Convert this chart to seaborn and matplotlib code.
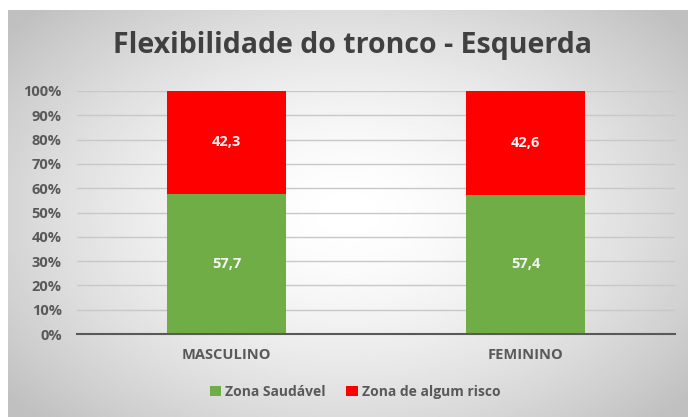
import numpy as np
import pandas as pd
import matplotlib
matplotlib.use('Agg')
import matplotlib.pyplot as plt
import seaborn as sns

# Data
categories = ['MASCULINO', 'FEMININO']
saudavel = [57.7, 57.4]
risco = [42.3, 42.6]
series_names = ['Zona Saudável', 'Zona de algum risco']
title = 'Flexibilidade do tronco - Esquerda'

green = '#70AD47'
red = '#FF0000'
text_gray = '#595959'

sns.set_theme(style='white')
plt.rcParams['font.family'] = ['Open Sans', 'DejaVu Sans']
plt.rcParams['font.weight'] = 'bold'

fig = plt.figure(figsize=(6.88, 4.17), dpi=100)
fig.patch.set_facecolor('white')

# radial gradient background for the chart frame
bg = fig.add_axes([8 / 688, 0, 1 - 8 / 688, 407 / 417], zorder=0)
yy, xx = np.mgrid[-1:1:300j, -1:1:400j]
r = np.sqrt(xx ** 2 + (yy * 0.9) ** 2)
shade = 1.0 - 0.25 * np.clip(r / 1.3, 0, 1) ** 1.6
bg.imshow(shade, cmap='gray', vmin=0, vmax=1, aspect='auto', extent=[0, 1, 0, 1])
bg.set_axis_off()

ax = fig.add_axes([77 / 688, 1 - 334 / 417, (675 - 77) / 688, (334 - 91) / 417], zorder=1)
ax.patch.set_alpha(0)

df = pd.DataFrame({'cat': categories, 'saudavel': saudavel,
                   'total': [s + r for s, r in zip(saudavel, risco)]})

sns.barplot(data=df, x='cat', y='total', color=red, width=0.4, ax=ax,
            saturation=1, label=series_names[1], linewidth=0)
sns.barplot(data=df, x='cat', y='saudavel', color=green, width=0.4, ax=ax,
            saturation=1, label=series_names[0], linewidth=0)

# value labels
for i, (s, rr) in enumerate(zip(saudavel, risco)):
    ax.text(i, s / 2, f'{s:.1f}'.replace('.', ','), ha='center', va='center',
            color='#f4f4f4', fontsize=10.5, fontweight='bold')
    ax.text(i, s + rr / 2, f'{rr:.1f}'.replace('.', ','), ha='center', va='center',
            color='#f4f4f4', fontsize=10.5, fontweight='bold')

ax.set_ylim(0, 100)
ax.set_xlim(-0.5, 1.5)
ax.set_yticks(np.arange(0, 101, 10))
ax.set_yticklabels([f'{v}%' for v in range(0, 101, 10)])
ax.yaxis.grid(True, color='#c8c8c8', linewidth=1)
ax.set_axisbelow(True)
for side in ['top', 'right', 'left']:
    ax.spines[side].set_visible(False)
ax.spines['bottom'].set_color(text_gray)
ax.spines['bottom'].set_linewidth(1.5)
ax.tick_params(axis='both', length=0, labelsize=10.5, labelcolor=text_gray)
ax.tick_params(axis='y', pad=11)
ax.tick_params(axis='x', pad=10)
ax.set_xlabel('')
ax.set_ylabel('')

handles, labels = ax.get_legend_handles_labels()
order = [labels.index(n) for n in series_names]
leg = fig.legend([handles[k] for k in order], [labels[k] for k in order],
                 loc='center', bbox_to_anchor=(0.516, 1 - 392 / 417), ncol=2,
                 frameon=False, handlelength=0.8, handleheight=0.8,
                 handletextpad=0.3, columnspacing=1.5,
                 prop={'weight': 'bold', 'size': 10})
for t in leg.get_texts():
    t.set_color(text_gray)
if ax.get_legend():
    ax.get_legend().remove()

fig.text(0.512, 1 - 46 / 417, title, ha='center', va='center',
         fontsize=20.5, fontweight='bold', color='#404040')

fig.savefig('out.png', dpi=100)
